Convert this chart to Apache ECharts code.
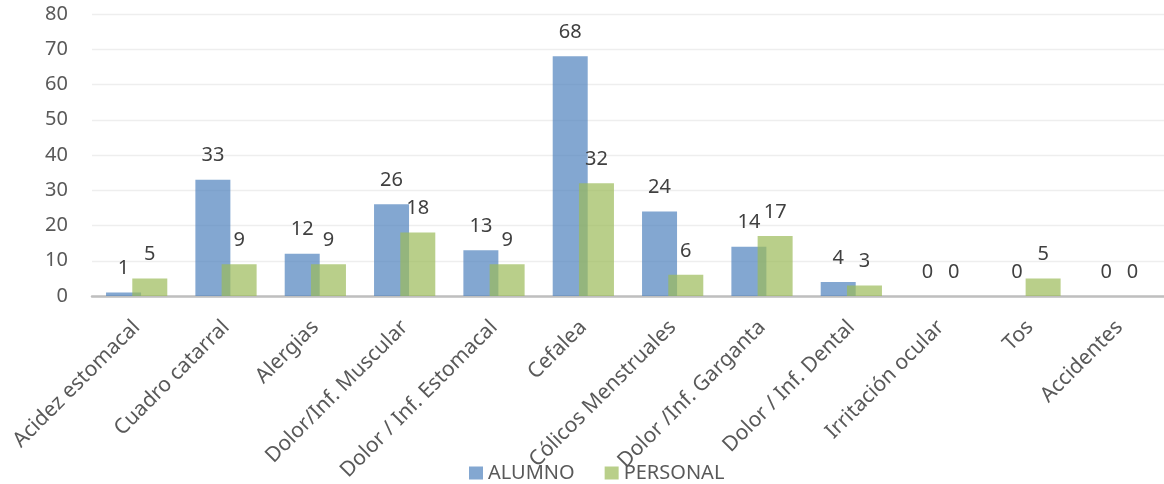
<!DOCTYPE html>
<html>
<head>
<meta charset="utf-8">
<script src="https://cdn.jsdelivr.net/npm/echarts@6/dist/echarts.min.js"></script>
<style>
  html, body { margin: 0; padding: 0; background: #fff; }
  #chart { width: 1164px; height: 484px; }
</style>
</head>
<body>
<div id="chart"></div>
<script>
const categories = ['Acidez estomacal', 'Cuadro catarral', 'Alergias', 'Dolor/Inf. Muscular', 'Dolor / Inf. Estomacal', 'Cefalea', 'Cólicos Menstruales', 'Dolor /Inf. Garganta', 'Dolor / Inf. Dental', 'Irritación ocular', 'Tos', 'Accidentes'];
const alumno = [1, 33, 12, 26, 13, 68, 24, 14, 4, 0, 0, 0];
const personal = [5, 9, 9, 18, 9, 32, 6, 17, 3, 0, 5, 0];
const seriesNames = ['ALUMNO', 'PERSONAL'];
const yTicks = { min: 0, max: 80, interval: 10 };

const font = 'Noto Sans';
const chart = echarts.init(document.getElementById('chart'), null, { renderer: 'canvas' });

const labelCfg = {
  show: true,
  position: 'top',
  distance: 14,
  color: '#404040',
  fontSize: 20,
  fontFamily: font
};

chart.setOption({
  animation: false,
  textStyle: { fontFamily: font },
  grid: { left: 92, right: 0, top: 14, bottom: 188, containLabel: false },
  legend: {
    data: seriesNames,
    left: 464,
    top: 458,
    itemWidth: 14,
    itemHeight: 13,
    itemGap: 30,
    icon: 'rect',
    textStyle: { color: '#595959', fontSize: 20, fontFamily: font, padding: [0, 0, 0, 0] }
  },
  xAxis: {
    type: 'category',
    data: categories,
    axisLine: { show: true, lineStyle: { color: '#bfbfbf', width: 2.5 } },
    axisTick: { show: false },
    axisLabel: {
      interval: 0,
      rotate: 45,
      margin: 28,
      color: '#595959',
      fontSize: 21,
      fontFamily: font
    }
  },
  yAxis: {
    type: 'value',
    min: yTicks.min,
    max: yTicks.max,
    interval: yTicks.interval,
    axisLine: { show: false },
    axisTick: { show: false },
    axisLabel: { color: '#595959', fontSize: 20, fontFamily: font, margin: 24 },
    splitLine: { lineStyle: { color: '#eeeeee', width: 1.3 } }
  },
  series: [
    {
      name: seriesNames[0],
      type: 'bar',
      data: alumno,
      barWidth: 35,
      barGap: '-25%',
      itemStyle: { color: 'rgba(79,129,189,0.7)' },
      label: labelCfg
    },
    {
      name: seriesNames[1],
      type: 'bar',
      data: personal,
      barWidth: 35,
      barGap: '-25%',
      itemStyle: { color: 'rgba(155,187,89,0.7)' },
      label: labelCfg
    }
  ]
});
</script>
</body>
</html>
